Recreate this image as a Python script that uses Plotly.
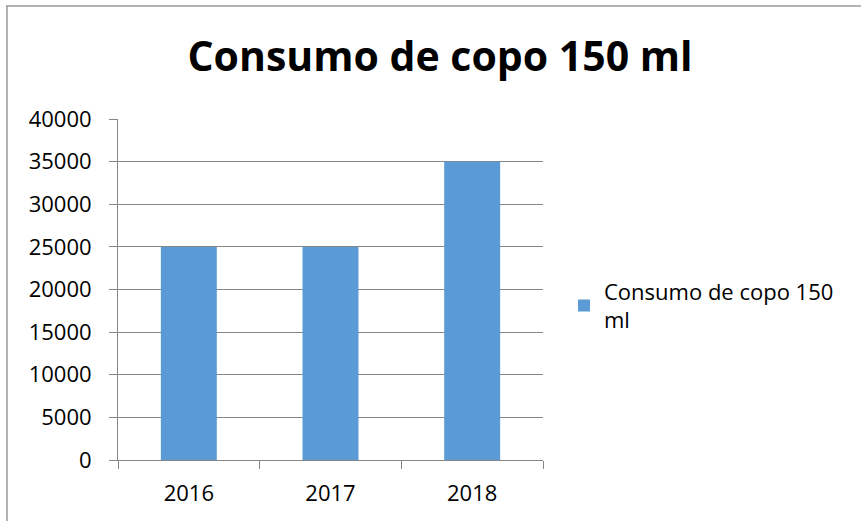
import plotly.graph_objects as go

categories = ["2016", "2017", "2018"]
values = [25000, 25000, 35000]
series_name = "Consumo de copo 150<br>ml"
title_text = "Consumo de copo 150 ml"
y_ticks = [0, 5000, 10000, 15000, 20000, 25000, 30000, 35000, 40000]

W, H = 861, 521
L, T = 118, 119
R, B = W - 543, H - 460
pw, ph = W - L - R, H - T - B

def px_x(p):
    return (p - L) / pw

def px_y(p):
    return (H - B - p) / ph

fig = go.Figure()
fig.add_trace(go.Bar(
    x=categories, y=values, name=series_name,
    marker=dict(color="#5B9BD5", line=dict(width=0)),
    showlegend=True,
))

fig.update_layout(
    width=W, height=H,
    margin=dict(l=L, r=R, t=T, b=B),
    paper_bgcolor="white", plot_bgcolor="white",
    font=dict(family="Open Sans, Liberation Sans, sans-serif", color="#000000", size=22),
    bargap=0.605,
    title=dict(text="<b>" + title_text + "</b>", x=(190 + 690) / 2 / W, xanchor="center",
               y=1 - 57 / H, yanchor="middle",
               font=dict(size=41, family="Open Sans, sans-serif", color="#000000")),
    showlegend=True,
    legend=dict(x=px_x(564), xanchor="left", y=px_y(306), yanchor="middle",
                font=dict(size=22), itemwidth=30, bgcolor="rgba(0,0,0,0)",
                tracegroupgap=0),
    xaxis=dict(showline=True, linecolor="#868686", linewidth=1,
               ticks="outside", ticklen=8, tickcolor="#868686",
               tickson="boundaries", showgrid=False, tickfont=dict(size=22),
               ticklabelstandoff=14),
    yaxis=dict(range=[0, 40000], tickvals=y_ticks, ticktext=[str(v) for v in y_ticks],
               showline=True, linecolor="#868686", linewidth=1,
               ticks="outside", ticklen=8, tickcolor="#868686",
               showgrid=True, gridcolor="#868686", gridwidth=1,
               zeroline=False, tickfont=dict(size=22), ticklabelstandoff=13),
)

# chart-area border: only top and left edges are visible in the reference
fig.add_shape(type="line", xref="paper", yref="paper",
              x0=px_x(6), x1=px_x(861), y0=px_y(6), y1=px_y(6),
              line=dict(color="#9a9a9a", width=1.5), layer="below")
fig.add_shape(type="line", xref="paper", yref="paper",
              x0=px_x(7), x1=px_x(7), y0=px_y(6), y1=px_y(521),
              line=dict(color="#9a9a9a", width=1.5), layer="below")

fig.write_html("out.html", config={"displayModeBar": False},
               post_script="document.body.style.margin='0';document.body.style.overflow='hidden';")
